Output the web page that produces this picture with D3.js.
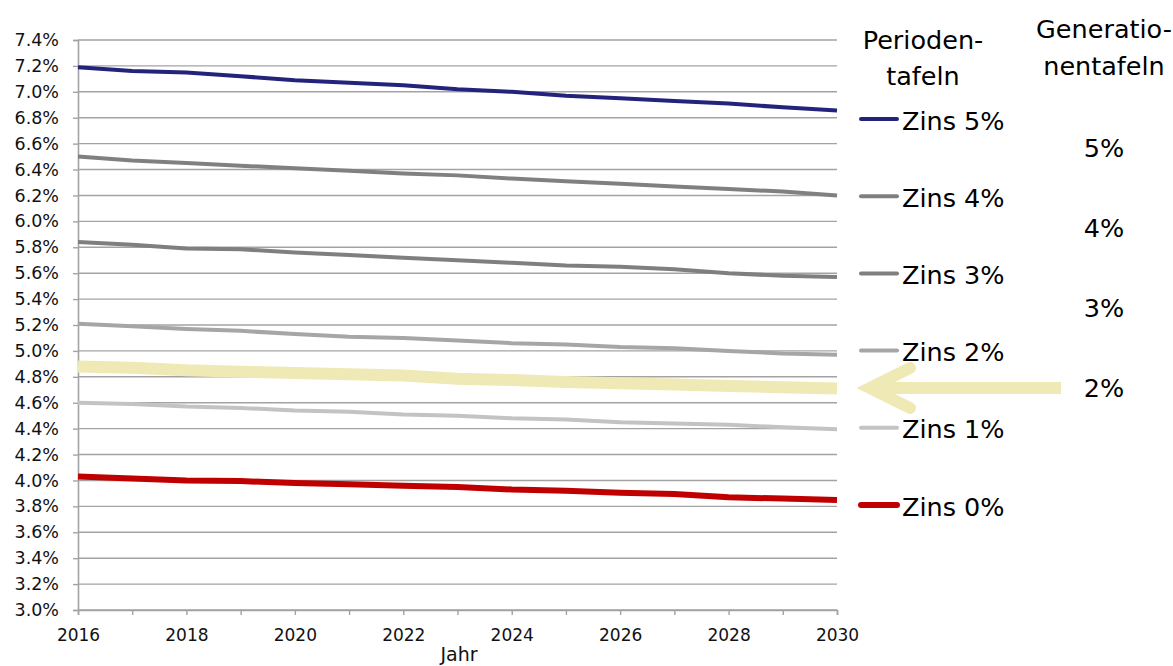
<!DOCTYPE html>
<html>
<head>
<meta charset="utf-8">
<script src="https://cdn.jsdelivr.net/npm/d3@7"></script>
<style>
  html, body { margin: 0; padding: 0; background: #fff; }
  svg { display: block; font-family: "DejaVu Sans", Verdana, sans-serif; }
</style>
</head>
<body>
<svg id="chart" width="1173" height="666"></svg>
<script>
// Jahre der Projektion
const years = [2016, 2017, 2018, 2019, 2020, 2021, 2022, 2023, 2024, 2025, 2026, 2027, 2028, 2029, 2030];

// Periodentafeln, Werte in %
const zins5 = [7.19, 7.16, 7.15, 7.12, 7.09, 7.07, 7.05, 7.02, 7.00, 6.97, 6.95, 6.93, 6.91, 6.88, 6.855];
const zins4 = [6.50, 6.47, 6.45, 6.43, 6.41, 6.39, 6.37, 6.355, 6.33, 6.31, 6.29, 6.27, 6.25, 6.23, 6.20];
const zins3 = [5.84, 5.82, 5.79, 5.785, 5.76, 5.74, 5.72, 5.70, 5.68, 5.66, 5.65, 5.63, 5.60, 5.58, 5.57];
const zins2 = [5.21, 5.19, 5.17, 5.155, 5.13, 5.11, 5.10, 5.08, 5.06, 5.05, 5.03, 5.02, 5.00, 4.98, 4.97];
const zins1 = [4.60, 4.59, 4.57, 4.56, 4.54, 4.53, 4.51, 4.50, 4.48, 4.47, 4.45, 4.44, 4.43, 4.41, 4.395];
const zins0 = [4.03, 4.015, 4.00, 3.995, 3.98, 3.97, 3.96, 3.95, 3.93, 3.92, 3.905, 3.895, 3.87, 3.86, 3.85];

// Generationentafel 2 %
const gen2 = [4.88, 4.87, 4.85, 4.84, 4.83, 4.82, 4.81, 4.785, 4.775, 4.76, 4.75, 4.74, 4.73, 4.72, 4.71];

// Achsenbeschriftungen
const yTicks = d3.range(3.0, 7.41, 0.2).map(v => +v.toFixed(1));
const xTickLabels = [2016, 2018, 2020, 2022, 2024, 2026, 2028, 2030];

const legendLabels = ["Zins 5%", "Zins 4%", "Zins 3%", "Zins 2%", "Zins 1%", "Zins 0%"];
const genLabels = ["5%", "4%", "3%", "2%"];
const headPeriode = ["Perioden-", "tafeln"];
const headGeneration = ["Generatio-", "nentafeln"];
const xTitle = "Jahr";

const series = [
  { name: legendLabels[0], values: zins5, color: "#23237c", width: 4 },
  { name: legendLabels[1], values: zins4, color: "#808080", width: 4 },
  { name: legendLabels[2], values: zins3, color: "#7f7f7f", width: 4 },
  { name: legendLabels[3], values: zins2, color: "#a6a6a6", width: 4 },
  { name: legendLabels[4], values: zins1, color: "#c3c3c3", width: 4 },
  { name: legendLabels[5], values: zins0, color: "#c00000", width: 6 }
];

const svg = d3.select("#chart");
const plot = { left: 78, right: 837, top: 40, bottom: 610 };

const x = d3.scaleLinear().domain([2016, 2030]).range([plot.left, plot.right]);
const y = d3.scaleLinear().domain([3.0, 7.4]).range([plot.bottom, plot.top]);

const gridColor = "#a3a3a3";
const axisFont = "DejaVu Sans, Verdana, sans-serif";

// horizontale Gitterlinien
svg.append("g")
  .selectAll("line")
  .data(yTicks)
  .join("line")
  .attr("x1", plot.left).attr("x2", plot.right)
  .attr("y1", d => y(d)).attr("y2", d => y(d))
  .attr("stroke", gridColor).attr("stroke-width", 1.4);

// y-Achse
const yAxis = svg.append("g")
  .attr("transform", `translate(${plot.left},0)`)
  .call(d3.axisLeft(y).tickValues(yTicks).tickSize(5).tickPadding(14)
    .tickFormat(d => d3.format(".1f")(d) + "%"));
yAxis.select(".domain").attr("stroke", gridColor).attr("stroke-width", 1.6);
yAxis.selectAll(".tick line").attr("stroke", gridColor).attr("stroke-width", 1.4);
yAxis.selectAll(".tick text").attr("font-size", 17.5).attr("fill", "#111")
  .attr("font-family", axisFont);

// x-Achse mit Jahres-Strichen
const xAxis = svg.append("g")
  .attr("transform", `translate(0,${plot.bottom})`)
  .call(d3.axisBottom(x).tickValues(years).tickSize(5).tickPadding(14)
    .tickFormat(d => xTickLabels.includes(d) ? String(d) : ""));
xAxis.select(".domain").attr("stroke", gridColor).attr("stroke-width", 1.6);
xAxis.selectAll(".tick line").attr("stroke", gridColor).attr("stroke-width", 1.4);
xAxis.selectAll(".tick text").attr("font-size", 17).attr("fill", "#111")
  .attr("font-family", axisFont);

svg.append("text")
  .attr("x", 459).attr("y", 661)
  .attr("text-anchor", "middle").attr("font-size", 19).attr("fill", "#111")
  .text(xTitle);

const line = d3.line()
  .x((d, i) => x(years[i]))
  .y(d => y(d));

// Generationentafel 2 % als breites Band
svg.append("path")
  .datum(gen2)
  .attr("d", line)
  .attr("fill", "none")
  .attr("stroke", "#efe9b6")
  .attr("stroke-width", 12);

// Periodentafeln
svg.append("g")
  .selectAll("path")
  .data(series)
  .join("path")
  .attr("d", d => line(d.values))
  .attr("fill", "none")
  .attr("stroke", d => d.color)
  .attr("stroke-width", d => d.width)
  .attr("stroke-linejoin", "round");

// Legende Periodentafeln
const legendY = d3.scalePoint().domain(legendLabels).range([119, 505]);
const legend = svg.append("g");
legend.selectAll("line")
  .data(series)
  .join("line")
  .attr("x1", 861).attr("x2", 897)
  .attr("y1", d => legendY(d.name)).attr("y2", d => legendY(d.name))
  .attr("stroke", d => d.color)
  .attr("stroke-width", d => d.width)
  .attr("stroke-linecap", "round");
legend.selectAll("text")
  .data(series)
  .join("text")
  .attr("x", 902)
  .attr("y", d => legendY(d.name) + 10.5)
  .attr("font-size", 25.5)
  .attr("fill", "#000")
  .text(d => d.name);

// Überschriften
svg.append("g").selectAll("text")
  .data(headPeriode)
  .join("text")
  .attr("x", 923).attr("y", (d, i) => 49 + i * 36)
  .attr("text-anchor", "middle").attr("font-size", 25.5).attr("fill", "#000")
  .text(d => d);
svg.append("g").selectAll("text")
  .data(headGeneration)
  .join("text")
  .attr("x", 1104).attr("y", (d, i) => 37.5 + i * 37)
  .attr("text-anchor", "middle").attr("font-size", 25.5).attr("fill", "#000")
  .text(d => d);

// Generationentafeln-Beschriftungen
const genY = d3.scalePoint().domain(genLabels).range([157, 397]);
svg.append("g").selectAll("text")
  .data(genLabels)
  .join("text")
  .attr("x", 1104).attr("y", d => genY(d))
  .attr("text-anchor", "middle").attr("font-size", 25.5).attr("fill", "#000")
  .text(d => d);

// Pfeil von "2%" zur Generationentafel-Kurve
const arrowY = 388;
const arrow = svg.append("g")
  .attr("stroke", "#efe9b6").attr("fill", "none").attr("stroke-width", 12);
arrow.append("line")
  .attr("x1", 1061).attr("x2", 872).attr("y1", arrowY).attr("y2", arrowY);
arrow.append("path")
  .attr("d", `M910,${arrowY - 20} L870,${arrowY} L910,${arrowY + 20}`)
  .attr("stroke-linecap", "round").attr("stroke-linejoin", "miter");
</script>
</body>
</html>
